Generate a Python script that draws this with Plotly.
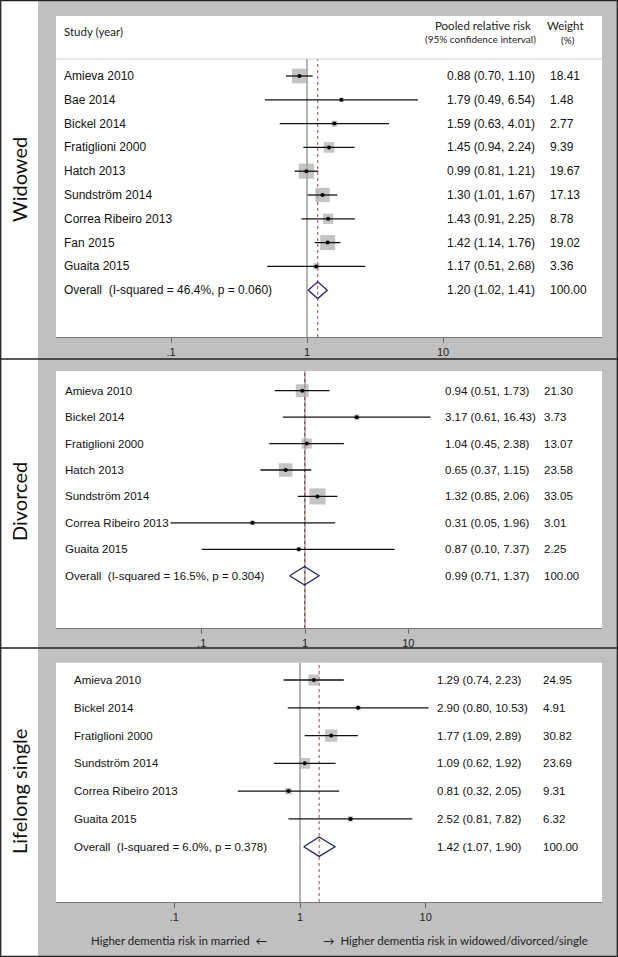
import math
import plotly.graph_objects as go

W, H = 618, 957

# ---- data ----
wid_study = ["Amieva 2010", "Bae 2014", "Bickel 2014", "Fratiglioni 2000", "Hatch 2013",
             "Sundström 2014", "Correa Ribeiro 2013", "Fan 2015", "Guaita 2015"]
wid_rr = [0.88, 1.79, 1.59, 1.45, 0.99, 1.30, 1.43, 1.42, 1.17]
wid_lo = [0.70, 0.49, 0.63, 0.94, 0.81, 1.01, 0.91, 1.14, 0.51]
wid_hi = [1.10, 6.54, 4.01, 2.24, 1.21, 1.67, 2.25, 1.76, 2.68]
wid_wt = [18.41, 1.48, 2.77, 9.39, 19.67, 17.13, 8.78, 19.02, 3.36]
wid_overall = [1.20, 1.02, 1.41]
wid_i2, wid_p = "46.4%", "0.060"

div_study = ["Amieva 2010", "Bickel 2014", "Fratiglioni 2000", "Hatch 2013",
             "Sundström 2014", "Correa Ribeiro 2013", "Guaita 2015"]
div_rr = [0.94, 3.17, 1.04, 0.65, 1.32, 0.31, 0.87]
div_lo = [0.51, 0.61, 0.45, 0.37, 0.85, 0.05, 0.10]
div_hi = [1.73, 16.43, 2.38, 1.15, 2.06, 1.96, 7.37]
div_wt = [21.30, 3.73, 13.07, 23.58, 33.05, 3.01, 2.25]
div_overall = [0.99, 0.71, 1.37]
div_i2, div_p = "16.5%", "0.304"

sng_study = ["Amieva 2010", "Bickel 2014", "Fratiglioni 2000", "Sundström 2014",
             "Correa Ribeiro 2013", "Guaita 2015"]
sng_rr = [1.29, 2.90, 1.77, 1.09, 0.81, 2.52]
sng_lo = [0.74, 0.80, 1.09, 0.62, 0.32, 0.81]
sng_hi = [2.23, 10.53, 2.89, 1.92, 2.05, 7.82]
sng_wt = [24.95, 4.91, 30.82, 23.69, 9.31, 6.32]
sng_overall = [1.42, 1.07, 1.90]
sng_i2, sng_p = "6.0%", "0.378"

group_labels = ["Widowed", "Divorced", "Lifelong single"]
tick_vals = [0.1, 1, 10]
tick_text = [".1", "1", "10"]

# ---- layout (pixel positions) ----
PANEL_LEFT, PANEL_RIGHT = 56, 602
panels = [
    dict(study=wid_study, rr=wid_rr, lo=wid_lo, hi=wid_hi, wt=wid_wt, ov=wid_overall,
         i2=wid_i2, p=wid_p, top=16, bottom=337, first=76, step=23.8, one=307, decade=136,
         name_x=62, rr_x=445, wt_x=548, box_k=3.45, fs=12, header=True, label_y=180),
    dict(study=div_study, rr=div_rr, lo=div_lo, hi=div_hi, wt=div_wt, ov=div_overall,
         i2=div_i2, p=div_p, top=371, bottom=628, first=390.7, step=26.43, one=305, decade=103.3,
         name_x=63, rr_x=443, wt_x=542, box_k=2.8, fs=11.5, header=False, label_y=502),
    dict(study=sng_study, rr=sng_rr, lo=sng_lo, hi=sng_hi, wt=sng_wt, ov=sng_overall,
         i2=sng_i2, p=sng_p, top=662.7, bottom=902, first=680, step=27.78, one=300, decade=125.7,
         name_x=72, rr_x=435, wt_x=541, box_k=2.2, fs=11.5, header=False, label_y=792),
]
HEADER_LINE = 59
SEPARATORS = [359, 648]
GRAY = "#c0c0c0"
BOX = "#ababab"
DATA_FONT = "Liberation Sans, Arial, sans-serif"
LABEL_FONT = "Lato, Open Sans, sans-serif"


def px_x(v):
    return v / W


def px_y(v):
    return 1 - v / H


fig = go.Figure()
annotations = []
shapes = []

for k, pn in enumerate(panels):
    n = k + 1
    xa = "x" if n == 1 else "x%d" % n
    ya = "y" if n == 1 else "y%d" % n
    rows = list(range(len(pn["study"])))
    ov_row = len(pn["study"])

    # boxes (area ~ weight)
    fig.add_trace(go.Scatter(
        x=pn["rr"], y=rows, mode="markers", xaxis=xa, yaxis=ya, hoverinfo="skip",
        marker=dict(symbol="square", color=BOX, line=dict(width=0),
                    size=[pn["box_k"] * math.sqrt(w) for w in pn["wt"]])))
    # confidence intervals
    cx, cy = [], []
    for r, lo, hi in zip(rows, pn["lo"], pn["hi"]):
        cx += [lo, hi, None]
        cy += [r, r, None]
    fig.add_trace(go.Scatter(x=cx, y=cy, mode="lines", xaxis=xa, yaxis=ya, hoverinfo="skip",
                             line=dict(color="#111111", width=1.3)))
    # point estimates
    fig.add_trace(go.Scatter(
        x=pn["rr"], y=rows, mode="markers", xaxis=xa, yaxis=ya, hoverinfo="skip",
        marker=dict(symbol="circle", color="black", size=4)))
    # pooled diamond
    est, lo, hi = pn["ov"]
    hh = 0.35
    fig.add_trace(go.Scatter(
        x=[lo, est, hi, est, lo], y=[ov_row, ov_row - hh, ov_row, ov_row + hh, ov_row],
        mode="lines", xaxis=xa, yaxis=ya, hoverinfo="skip",
        line=dict(color="#24246e", width=1.3)))

    x_rng = [(PANEL_LEFT - pn["one"]) / pn["decade"], (PANEL_RIGHT - pn["one"]) / pn["decade"]]
    y_rng = [(pn["bottom"] - pn["first"]) / pn["step"], (pn["top"] - pn["first"]) / pn["step"]]
    dom_y = [px_y(pn["bottom"]), px_y(pn["top"])]
    fig.layout["xaxis" if n == 1 else "xaxis%d" % n] = dict(
        type="log", range=x_rng, domain=[px_x(PANEL_LEFT), px_x(PANEL_RIGHT)], anchor=ya,
        tickvals=tick_vals, ticktext=tick_text, ticks="outside", ticklen=5, tickcolor="#666",
        showline=True, linecolor="#777", linewidth=1, showgrid=False, zeroline=False,
        tickfont=dict(family=DATA_FONT, size=11, color="#222"), fixedrange=True)
    fig.layout["yaxis" if n == 1 else "yaxis%d" % n] = dict(
        range=y_rng, domain=dom_y, anchor=xa, visible=False, fixedrange=True)

    # null line and pooled estimate line
    y_top = 1.0
    if pn["header"]:
        y_top = (pn["bottom"] - HEADER_LINE) / (pn["bottom"] - pn["top"])
        shapes.append(dict(type="line", xref=xa + " domain", yref=ya + " domain",
                           x0=0, x1=1, y0=y_top, y1=y_top, line=dict(color="#cfcfcf", width=1)))
    shapes.append(dict(type="line", xref=xa, yref=ya + " domain", x0=1, x1=1, y0=0, y1=y_top,
                       layer="below", line=dict(color="#666666", width=1)))
    shapes.append(dict(type="line", xref=xa, yref=ya + " domain", x0=est, x1=est, y0=0, y1=y_top,
                       layer="below", line=dict(color="#a04545", width=1, dash="3px,3px")))

    # text columns
    labels = pn["study"] + ["Overall\u00a0 (I-squared = %s, p = %s)" % (pn["i2"], pn["p"])]
    rr_txt = ["%.2f (%.2f, %.2f)" % t for t in zip(pn["rr"], pn["lo"], pn["hi"])] + \
             ["%.2f (%.2f, %.2f)" % tuple(pn["ov"])]
    wt_txt = ["%.2f" % w for w in pn["wt"]] + ["100.00"]
    for r, (a, b, c) in enumerate(zip(labels, rr_txt, wt_txt)):
        for txt, xx in ((a, pn["name_x"]), (b, pn["rr_x"]), (c, pn["wt_x"])):
            annotations.append(dict(text=txt, x=px_x(xx), xref="paper", y=r, yref=ya,
                                    xanchor="left", yanchor="middle", showarrow=False,
                                    font=dict(family=DATA_FONT, size=pn["fs"], color="#111")))

    # group label in left column
    annotations.append(dict(text=group_labels[k], x=px_x(19), y=px_y(pn["label_y"]),
                            xref="paper", yref="paper", textangle=-90, showarrow=False,
                            xanchor="center", yanchor="middle",
                            font=dict(family=LABEL_FONT, size=20, color="#111")))

# column headers
hdr = dict(xref="paper", yref="paper", showarrow=False, yanchor="middle",
           font=dict(family=LABEL_FONT, size=11.5, color="#222"))
annotations += [
    dict(hdr, text="Study (year)", x=px_x(62), y=px_y(32), xanchor="left"),
    dict(hdr, text="Pooled relative risk", x=px_x(483), y=px_y(26), xanchor="center"),
    dict(hdr, text="(95% confidence interval)", x=px_x(480), y=px_y(39), xanchor="center",
         font=dict(family=LABEL_FONT, size=10, color="#222")),
    dict(hdr, text="Weight", x=px_x(565), y=px_y(26), xanchor="center"),
    dict(hdr, text="(%)", x=px_x(568), y=px_y(40), xanchor="center",
         font=dict(family=LABEL_FONT, size=10, color="#222")),
]

# direction captions
cap = dict(xref="paper", yref="paper", showarrow=False, yanchor="middle", y=px_y(940),
           font=dict(family=LABEL_FONT, size=11.5, color="#222"))
annotations += [
    dict(cap, text="Higher dementia risk in married\u00a0 \u2190", x=px_x(269), xanchor="right"),
    dict(cap, text="\u2192\u00a0 Higher dementia risk in widowed/divorced/single", x=px_x(321),
         xanchor="left"),
]

# page furniture: white label column, separators, outer frame
shapes.insert(0, dict(type="rect", xref="paper", yref="paper", x0=0, x1=px_x(38), y0=0, y1=1,
                      fillcolor="white", line=dict(width=0), layer="below"))
for s in SEPARATORS:
    shapes.append(dict(type="line", xref="paper", yref="paper", x0=0, x1=1, y0=px_y(s), y1=px_y(s),
                       line=dict(color="#222", width=1.3)))
shapes.append(dict(type="rect", xref="paper", yref="paper", x0=px_x(0.7), x1=px_x(W - 0.7),
                   y0=px_y(H - 0.7), y1=px_y(0.7), line=dict(color="#222", width=1.3)))

fig.update_layout(
    width=W, height=H, margin=dict(l=0, r=0, t=0, b=0),
    paper_bgcolor=GRAY, plot_bgcolor="white", showlegend=False,
    annotations=annotations, shapes=shapes,
)

# drop the browser's default body margin so the figure sits at the page origin
fig.write_html("out.html", config={"displayModeBar": False},
               post_script="document.body.style.margin='0';")
